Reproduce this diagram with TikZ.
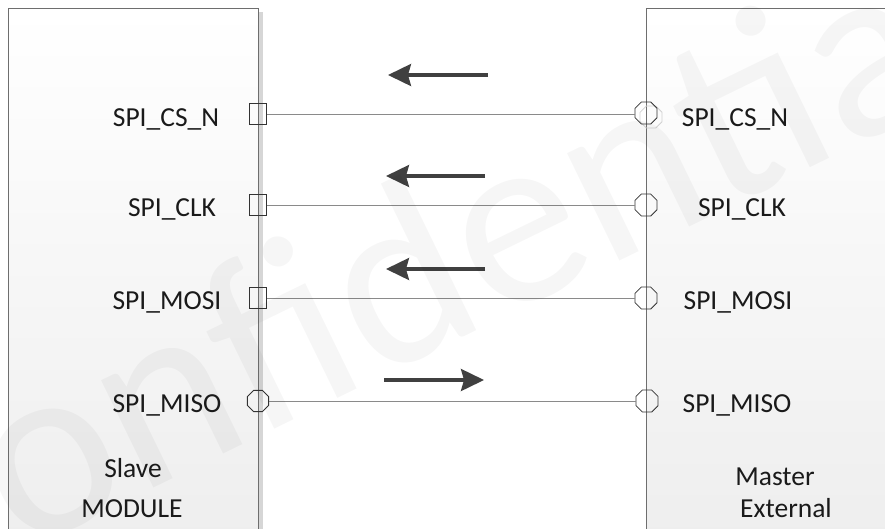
\documentclass[tikz,border=0pt]{standalone}
\usepackage{fontspec}
\setmainfont{Carlito}
\usetikzlibrary{arrows.meta,shapes.misc,shapes.geometric}

\definecolor{edge}{HTML}{6E6E6E}
\definecolor{wirec}{HTML}{8A8A8A}
\definecolor{flowc}{HTML}{404040}
\definecolor{inkc}{HTML}{1A1A1A}

\tikzset{
  block/.style={draw=edge, line width=0.9pt, top color=white, bottom color=black!7,
    minimum width=250pt, minimum height=560pt, inner sep=0pt, anchor=north west},
  shade/.style={fill=black!16},
  inport/.style={draw=black!80, line width=0.8pt, chamfered rectangle,
    chamfered rectangle xsep=2.5pt, chamfered rectangle ysep=2.5pt,
    minimum width=17pt, minimum height=21pt, inner sep=0pt},
  outport/.style={draw=black!80, line width=0.8pt, regular polygon, regular polygon sides=8,
    minimum size=24pt, inner sep=0pt},
  ghost/.style={outport, draw=black!18},
  wire/.style={draw=wirec, line width=0.8pt},
  flow/.style={draw=flowc, line width=3.2pt, -{Stealth[length=23pt,width=22pt,inset=3pt]}},
  sig/.style={text=inkc, font=\fontsize{27.5}{33}\selectfont, anchor=base, inner sep=0pt},
  watermark/.style={text=black, opacity=0.035, font=\fontsize{250}{260}\selectfont,
    rotate=26, inner sep=0pt}
}

\begin{document}
\begin{tikzpicture}[x=1pt,y=-1pt]
\useasboundingbox (0,0) rectangle (885,528);
\begin{scope}
\clip (0,0) rectangle (885,528);

% drop shadows and the two blocks
\fill[shade] (258,12) rectangle (263,540);
\node[block] (slave) at (8,8) {};
\node[block] (master) at (646,8) {};

% ports on the slave side
\node[inport]  (csL)   at (258,114) {};
\node[inport]  (clkL)  at (258,205) {};
\node[inport]  (mosiL) at (258,298) {};
\node[outport, minimum size=23pt] (misoL) at (258,401) {};

% ports on the master side
\node[ghost]   (csG)   at (651,117) {};
\node[outport] (csR)   at (646,113) {};
\node[outport] (clkR)  at (646,205) {};
\node[outport] (mosiR) at (646,298) {};
\node[outport] (misoR) at (647,401) {};

% signal wires
\draw[wire] (csL.east)   -- (csL.east -| csR.west);
\draw[wire] (clkL.east)  -- (clkR.west);
\draw[wire] (mosiL.east) -- (mosiR.west);
\draw[wire] (misoL.east) -- (misoR.west);

% direction arrows
\coordinate (a1s) at (488,75);  \coordinate (a1e) at (388,75);
\coordinate (a2s) at (485,176); \coordinate (a2e) at (386,176);
\coordinate (a3s) at (485,269); \coordinate (a3e) at (386,269);
\coordinate (a4s) at (384,380); \coordinate (a4e) at (484,380);
\draw[flow] (a1s) -- (a1e);
\draw[flow] (a2s) -- (a2e);
\draw[flow] (a3s) -- (a3e);
\draw[flow] (a4s) -- (a4e);

% signal names
\node[sig] (tcsL)   at (166,126) {SPI\_CS\_N};
\node[sig] (tclkL)  at (172,216) {SPI\_CLK};
\node[sig] (tmosiL) at (167,309) {SPI\_MOSI};
\node[sig] (tmisoL) at (167,412) {SPI\_MISO};
\node[sig] (tcsR)   at (735,126) {SPI\_CS\_N};
\node[sig] (tclkR)  at (742,216) {SPI\_CLK};
\node[sig] (tmosiR) at (738,309) {SPI\_MOSI};
\node[sig] (tmisoR) at (737,412) {SPI\_MISO};

% block captions
\node[sig] (sl1) at (133,477) {Slave};
\node[sig] (sl2) at (132,517) {MODULE};
\node[sig] (ms1) at (775,485) {Master};
\node[sig] (ms2) at (786,517) {External};

% faint watermark
\node[watermark] (wm) at (415,265) {Confidential};
\end{scope}
\end{tikzpicture}
\end{document}
